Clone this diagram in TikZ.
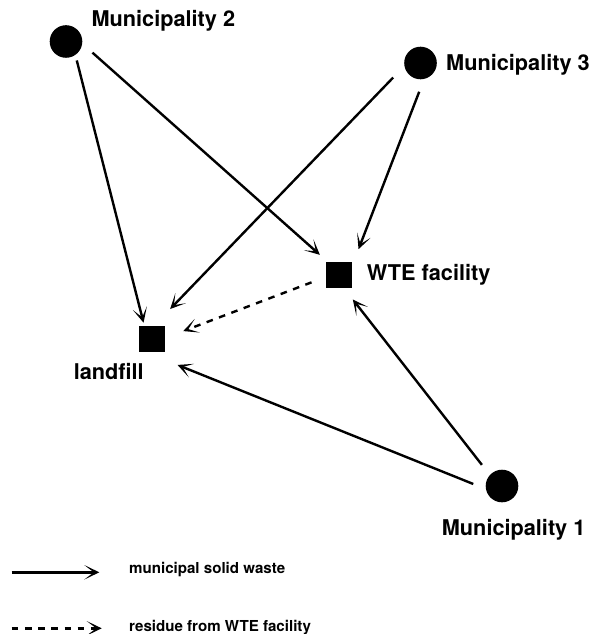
\documentclass[tikz,border=0pt]{standalone}
\usepackage{fontspec}
\setmainfont{TeX Gyre Heros}
\usetikzlibrary{arrows.meta}
\tikzset{
  town/.style={circle,fill=black,draw=none,minimum size=32.6pt,inner sep=0pt,outer sep=0pt},
  site/.style={rectangle,fill=black,draw=none,minimum size=26.4pt,inner sep=0pt,outer sep=0pt},
  lab/.style={anchor=base west,inner sep=0pt,font=\bfseries\fontsize{21.7}{24}\selectfont},
  leg/.style={anchor=base west,inner sep=0pt,font=\bfseries\fontsize{15.1}{18}\selectfont},
  flow/.style={line width=2.4pt,-{Stealth[length=15pt,width=14.5pt,inset=9.5pt]}},
  residue/.style={flow,dash pattern=on 6.6pt off 6.6pt}
}
\begin{document}
\begin{tikzpicture}[x=1pt,y=-1pt]
\useasboundingbox (0,0) rectangle (593,634);
% nodes
\node[town] (m2) at (66,41.5) {};
\node[town] (m3) at (420.5,63) {};
\node[town] (m1) at (502,486) {};
\node[site] (wte) at (339.2,275) {};
\node[site] (lf) at (151.7,339.2) {};
% labels
\node[lab] (m2t) at (91.4,27) {Municipality 2};
\node[lab] (m3t) at (446,70.7) {Municipality 3};
\node[lab] (m1t) at (441.7,535) {Municipality 1};
\node[lab] (wtet) at (366.7,280.5) {WTE facility};
\node[lab] (lft) at (73.6,379) {landfill};
% connectors
\draw[flow,shorten <=5.8pt,shorten >=3.4pt] (m2.-55.6) -- (lf.119.7);
\draw[flow,shorten <=13.8pt,shorten >=10.5pt] (m2.-7) -- (wte.131.1);
\draw[flow,shorten <=16.2pt,shorten >=23.6pt] (m3.190.7) -- (lf.81.7);
\draw[flow,shorten <=13.8pt,shorten >=17pt] (m3.-77.7) -- (wte.37.2);
\draw[residue,shorten <=15.5pt,shorten >=19.6pt] (wte.-172.1) -- (lf.5.3);
\draw[flow,shorten <=13pt,shorten >=14.3pt] (m1.138.9) -- (wte.-70.1);
\draw[flow,shorten <=13.7pt,shorten >=33.6pt] (m1.-169) -- (lf.-112.9);
% legend
\coordinate (l1a) at (11.7,572.3);
\coordinate (l1b) at (99.3,572.3);
\coordinate (l2a) at (11.7,628.3);
\coordinate (l2b) at (101.7,628.3);
\draw[flow] (l1a) -- (l1b);
\draw[residue] (l2a) -- (l2b);
\node[leg] (leg1) at (129,573.3) {municipal solid waste};
\node[leg] (leg2) at (129,631) {residue from WTE facility};
\end{tikzpicture}
\end{document}
